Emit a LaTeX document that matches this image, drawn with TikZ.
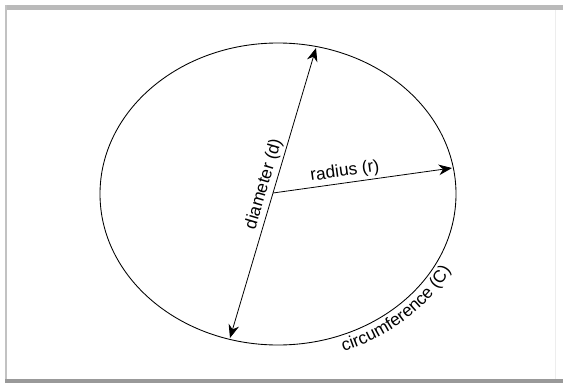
\documentclass[tikz,border=0pt]{standalone}
\usepackage{fontspec}
\setmainfont{Liberation Sans}
\usetikzlibrary{arrows.meta,decorations.text}

\newcommand{\lblfont}{\fontsize{13}{15}\selectfont}

\tikzset{every picture/.style={line width=0.75pt}}
\tikzset{
measure/.style={{Stealth[length=10pt,width=8pt]}-{Stealth[length=10pt,width=8pt]}, line width=0.6pt},
pointer/.style={-{Stealth[length=10pt,width=8pt]}, line width=0.6pt},
lbl/.style={font=\lblfont, inner sep=2pt},
rim/.style={line width=0.65pt}}

\begin{document}
\begin{tikzpicture}[x=0.75pt,y=0.75pt]
\useasboundingbox (0,0) rectangle (563,383);

%Frame
\fill[black!27] (5,373) rectangle (563,378);
\fill[black!24] (5,0) rectangle (7,378);
\fill[black!40] (5,0) rectangle (563,4);
\fill[black!7] (555,4) rectangle (556,373);

%Shape: Ellipse
\coordinate (C) at (278,189);
\draw[rim] (C) ellipse [x radius=178, y radius=151];

%Points on the rim
\coordinate (O) at (273,190);
\coordinate (dtop) at (316,335);
\coordinate (dbot) at (230,45);
\coordinate (rend) at (452,215);

%Straight Lines: diameter
\draw[measure] (dbot) -- node[lbl, sloped, above, pos=0.52] (dlbl) {diameter (d)} (dtop);
%Straight Lines: radius
\draw[pointer] (O) -- node[lbl, sloped, above, pos=0.41] (rlbl) {radius (r)} (rend);

% Text along the rim
\path[decorate, decoration={text along path, text align=center, text={|\lblfont|circumference (C)}}]
  ([shift={(-80:194 and 167)}]C) arc[start angle=-80, end angle=-16, x radius=194, y radius=167];

\end{tikzpicture}
\end{document}
